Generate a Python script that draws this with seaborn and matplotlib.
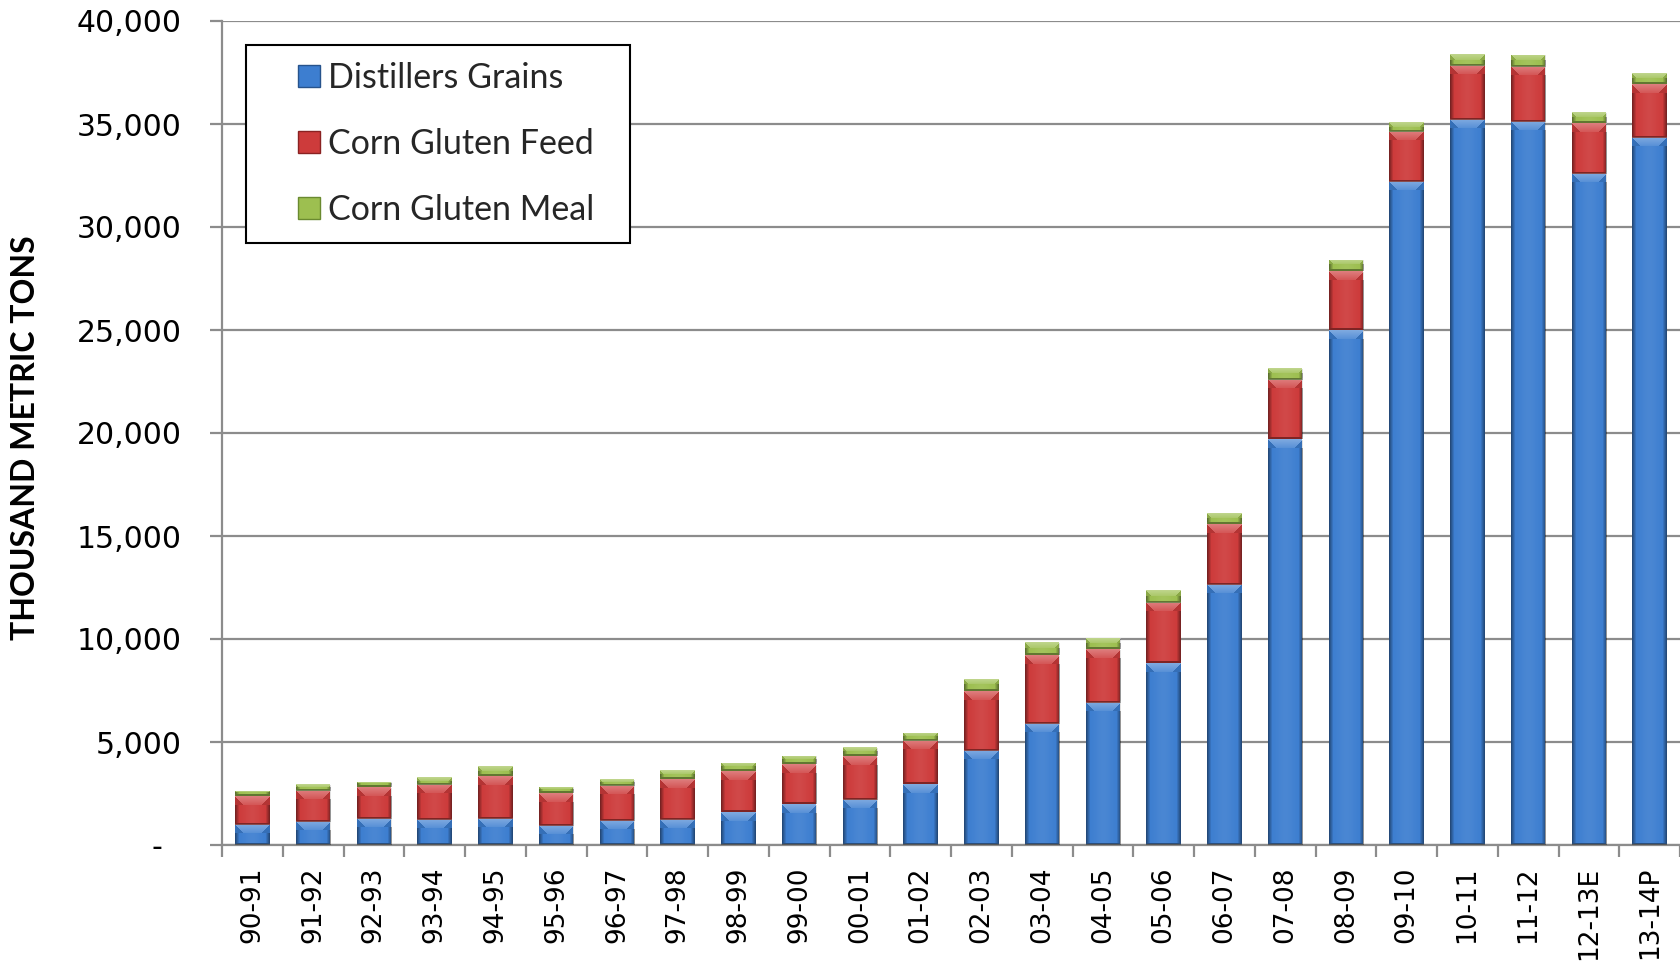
import numpy as np
import pandas as pd
import matplotlib
matplotlib.use("Agg")
import matplotlib.pyplot as plt
import seaborn as sns
from matplotlib.patches import Patch, Rectangle
from matplotlib.path import Path
from matplotlib.legend_handler import HandlerPatch
from matplotlib.ticker import FuncFormatter, FixedLocator

# Marketing years (thousand metric tons)
seasons = ["90-91", "91-92", "92-93", "93-94", "94-95", "95-96", "96-97", "97-98",
           "98-99", "99-00", "00-01", "01-02", "02-03", "03-04", "04-05", "05-06",
           "06-07", "07-08", "08-09", "09-10", "10-11", "11-12", "12-13E", "13-14P"]
distillers_grains = [990, 1130, 1280, 1230, 1280, 940, 1180, 1230, 1600, 1990, 2200, 2950,
                     4580, 5890, 6910, 8820, 12640, 19690, 25000, 32190, 35200, 35100,
                     32590, 34340]
corn_gluten_feed = [1375, 1505, 1520, 1700, 2085, 1570, 1700, 1990, 1990, 1940, 2135, 2090,
                    2910, 3320, 2620, 2940, 2945, 2895, 2860, 2430, 2635, 2670, 2460, 2620]
corn_gluten_meal = [260, 325, 260, 370, 470, 305, 325, 420, 390, 390, 420, 390,
                    555, 630, 505, 615, 520, 555, 535, 470, 565, 585, 520, 520]
series_names = ["Distillers Grains", "Corn Gluten Feed", "Corn Gluten Meal"]
y_ticks = list(range(0, 40001, 5000))

BLUE = "#3D7ED0"
RED = "#CD3B3B"
GREEN = "#9DBF50"
GRID = "#8c8c8c"

sns.set_theme(style="white")
plt.rcParams["font.family"] = ["DejaVu Sans"]

df = pd.DataFrame({
    "season": seasons,
    "dg": distillers_grains,
    "cgf": corn_gluten_feed,
    "cgm": corn_gluten_meal,
})
df["dg_cgf"] = df["dg"] + df["cgf"]
df["total"] = df["dg_cgf"] + df["cgm"]

fig = plt.figure(figsize=(16.8, 9.67), dpi=100)
ax = fig.add_axes([222 / 1680, 1 - 845 / 967, 1458 / 1680, 824 / 967])

BAR_W = 0.57
# stacked bars: draw cumulative totals from the top layer down
for col, colour in [("total", GREEN), ("dg_cgf", RED), ("dg", BLUE)]:
    sns.barplot(data=df, x="season", y=col, color=colour, width=BAR_W,
                saturation=1, errorbar=None, ax=ax, linewidth=0, zorder=2)

ax.set_xlim(-0.5, len(seasons) - 0.5)
ax.set_ylim(0, 40000)


def bevel_overlay(h, w, bevel=9):
    """RGBA shading giving a bar segment a bevelled, glossy look."""
    h = max(int(h), 1)
    w = max(int(w), 1)
    r = np.arange(h)[:, None]
    c = np.arange(w)[None, :]
    d = np.minimum(c, w - 1 - c)
    v = np.zeros((h, w))
    v -= 0.42 * np.clip(1 - d / 4.0, 0, 1)
    v += 0.07 * np.exp(-((c - (w - 1) / 2) / (w / 4)) ** 2)
    v = v + np.zeros((h, w))
    b = min(bevel, max(2, h // 2))
    top = r < b
    facet = top & (d >= r)
    v = np.where(facet, 0.34 * (1 - r / (b * 1.6)), v)
    v = np.where(top & (d < r), -0.12, v)
    v = np.where(r >= h - 2, -0.38, v)
    rgba = np.zeros((h, w, 4))
    rgba[..., :3] = (v > 0)[..., None].astype(float)
    rgba[..., 3] = np.abs(v)
    return rgba


for i, row in df.iterrows():
    for lo, hi in [(0, row["dg"]), (row["dg"], row["dg_cgf"]), (row["dg_cgf"], row["total"])]:
        x0, x1 = i - BAR_W / 2, i + BAR_W / 2
        p0 = ax.transData.transform((x0, lo))
        p1 = ax.transData.transform((x1, hi))
        img = bevel_overlay(round(p1[1] - p0[1]), round(p1[0] - p0[0]))
        ax.imshow(img, extent=(x0, x1, lo, hi), aspect="auto",
                  interpolation="nearest", zorder=3)

ax.set_xlim(-0.5, len(seasons) - 0.5)
ax.set_ylim(0, 40000)

# axes styling
ax.set_axisbelow(True)
ax.yaxis.grid(True, color=GRID, linewidth=1.6)
ax.xaxis.grid(False)
for side in ["top", "right"]:
    ax.spines[side].set_visible(False)
for side in ["left", "bottom"]:
    ax.spines[side].set_color(GRID)
    ax.spines[side].set_linewidth(1.6)

ax.yaxis.set_major_locator(FixedLocator(y_ticks))
ax.yaxis.set_major_formatter(FuncFormatter(lambda v, p: "-  " if v == 0 else f"{int(v):,}"))
ax.tick_params(axis="y", direction="out", length=8.6, width=1.6, color=GRID,
               pad=20.5, labelsize=21.5, labelcolor="black", left=True)

ax.set_xticks(range(len(seasons)))
ax.set_xticklabels(seasons, rotation=90)
ax.set_xticks(np.arange(-0.5, len(seasons)), minor=True)
ax.tick_params(axis="x", which="major", length=0, pad=15.5, labelsize=19, labelcolor="black")
ax.tick_params(axis="x", which="minor", direction="out", length=8.6, width=1.6,
               color=GRID, bottom=True)
ax.set_xlabel("")
ax.set_ylabel("")

fig.text(26 / 1680, 1 - 438 / 967, "THOUSAND METRIC TONS", rotation=90,
         ha="center", va="center", fontfamily="Lato", fontweight="bold",
         fontsize=23, color="black")


def right_square(legend, orig_handle, xdescent, ydescent, width, height, fontsize):
    s = height
    return Rectangle((-xdescent + width - s, -ydescent), s, s)


def legend_box(x0, y0, width, height, mutation_size):
    # square frame with a little extra room on the right-hand side
    x1 = x0 + width + 19
    y1 = y0 + height
    return Path([(x0, y0), (x1, y0), (x1, y1), (x0, y1), (x0, y0)],
                closed=True)


handles = [Patch(facecolor=c, edgecolor=e, linewidth=1.0)
           for c, e in [(BLUE, "#27538c"), (RED, "#8a2222"), (GREEN, "#6a8a30")]]
leg = ax.legend(handles, series_names,
                handler_map={Patch: HandlerPatch(patch_func=right_square)},
                loc="upper left", bbox_to_anchor=(0.0165, 0.971), borderaxespad=0,
                frameon=True, fancybox=False, edgecolor="black",
                prop={"family": "Lato", "size": 24.5},
                handlelength=1.66, handleheight=0.6, handletextpad=0.25,
                labelspacing=1.0, borderpad=0.5)
frame = leg.get_frame()
frame.set_boxstyle(legend_box)
frame.set_linewidth(1.5)
frame.set_facecolor("white")
frame.set_alpha(1)
leg.set_zorder(5)

fig.savefig("out.png", dpi=100, facecolor="white")
